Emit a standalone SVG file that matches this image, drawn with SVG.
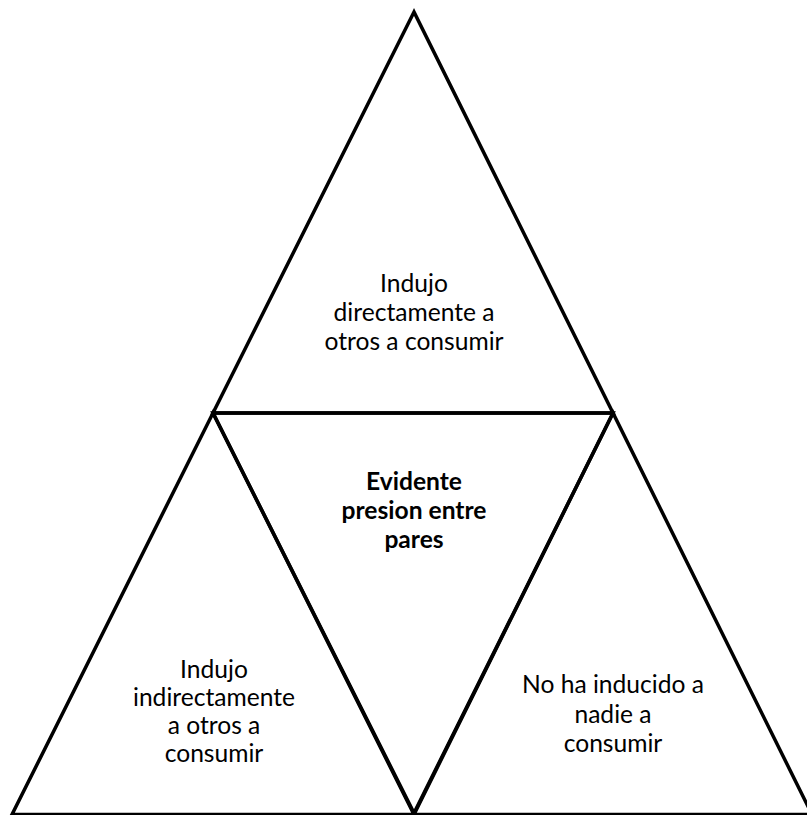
<svg xmlns="http://www.w3.org/2000/svg" width="807" height="815" viewBox="0 0 807 815">
<style>
.tri{fill:none;stroke:#000;stroke-width:3.5;stroke-linejoin:miter}
.lbl{font-family:Lato,"Open Sans","Liberation Sans",sans-serif;font-size:24.6px;fill:#000;text-anchor:middle}
.b{font-weight:bold}
</style>
<rect width="807" height="815" fill="#fff"/>
<g id="top">
<polygon class="tri" points="414,12 213,413 613,413"/>
<text class="lbl" x="414" y="292">Indujo</text>
<text class="lbl" x="414" y="321">directamente a</text>
<text class="lbl" x="414" y="350">otros a consumir</text>
</g>
<g id="center">
<polygon class="tri" points="213,413 613,413 414,813"/>
<text class="lbl b" x="414" y="490">Evidente</text>
<text class="lbl b" x="414" y="519">presion entre</text>
<text class="lbl b" x="414" y="548">pares</text>
</g>
<g id="left">
<polygon class="tri" points="213,413 12,814.5 414,814.5"/>
<text class="lbl" x="214" y="678">Indujo</text>
<text class="lbl" x="214" y="706">indirectamente</text>
<text class="lbl" x="214" y="734">a otros a</text>
<text class="lbl" x="214" y="762">consumir</text>
</g>
<g id="right">
<polygon class="tri" points="613,413 414,814.5 812,814.5"/>
<text class="lbl" x="613" y="693">No ha inducido a</text>
<text class="lbl" x="613" y="723">nadie a</text>
<text class="lbl" x="613" y="752">consumir</text>
</g>
</svg>
